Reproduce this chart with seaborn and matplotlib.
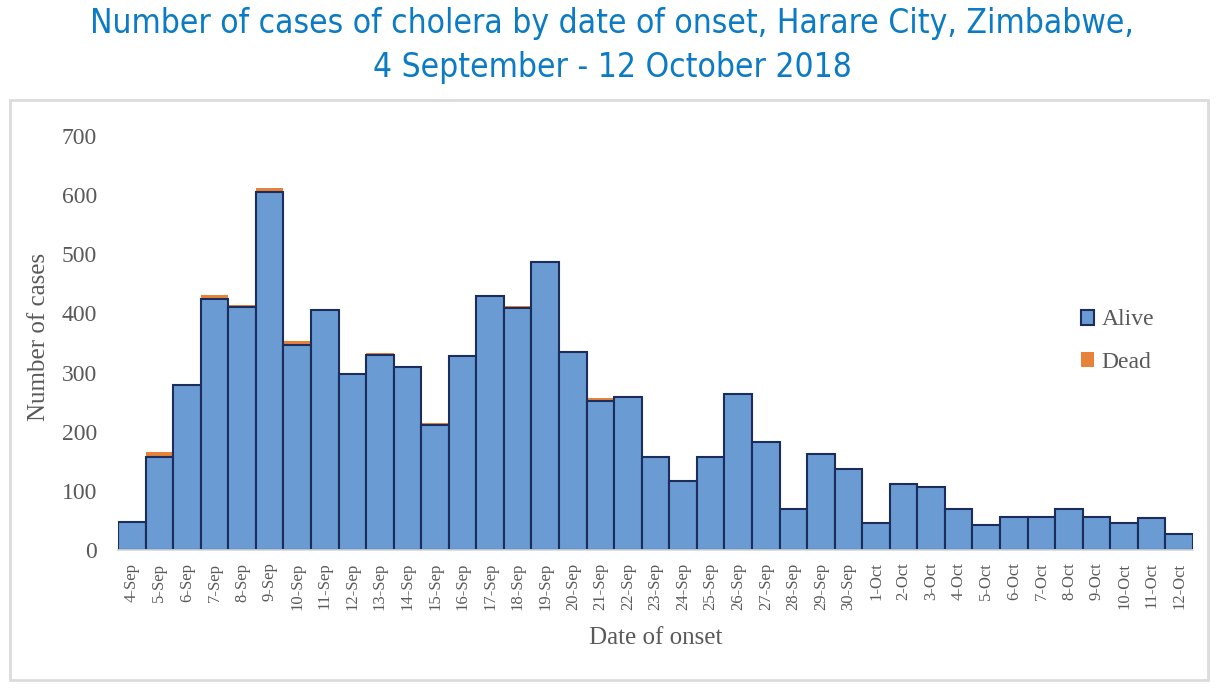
import numpy as np
import pandas as pd
import seaborn as sns
import matplotlib.pyplot as plt
import matplotlib.patches as mpatches
from matplotlib import font_manager

# Daten: Erkrankungsdatum und Fallzahlen
datum = ["4-Sep", "5-Sep", "6-Sep", "7-Sep", "8-Sep", "9-Sep", "10-Sep", "11-Sep",
         "12-Sep", "13-Sep", "14-Sep", "15-Sep", "16-Sep", "17-Sep", "18-Sep", "19-Sep",
         "20-Sep", "21-Sep", "22-Sep", "23-Sep", "24-Sep", "25-Sep", "26-Sep", "27-Sep",
         "28-Sep", "29-Sep", "30-Sep", "1-Oct", "2-Oct", "3-Oct", "4-Oct", "5-Oct",
         "6-Oct", "7-Oct", "8-Oct", "9-Oct", "10-Oct", "11-Oct", "12-Oct"]
alive = [48, 158, 279, 425, 411, 605, 346, 405, 298, 330, 310, 212, 328, 429, 409, 487,
         335, 252, 258, 158, 117, 158, 264, 182, 70, 162, 137, 45, 111, 107, 69, 42,
         56, 55, 69, 55, 45, 54, 27]
dead = [0, 8, 0, 7, 3, 7, 7, 0, 0, 3, 0, 2, 0, 3, 3, 0,
        0, 5, 0, 0, 0, 0, 0, 0, 0, 0, 0, 0, 0, 0, 0, 0,
        0, 0, 0, 0, 0, 0, 0]

df = pd.DataFrame({"Datum": datum, "Alive": alive, "Dead": dead})
df["Gesamt"] = df["Alive"] + df["Dead"]

blau = "#6a9bd2"
rand = "#1b2d5c"
orange = "#e8823a"
grau = "#595959"

sns.set_theme(style="white")
plt.rcParams["font.family"] = ["Liberation Serif", "DejaVu Serif"]

fig = plt.figure(figsize=(12.24, 6.98), dpi=100)
W, H = 1224, 698
ax = fig.add_axes([118 / W, 1 - 550 / H, (1193 - 118) / W, (550 - 136) / H])

# gestapelte Balken: erst Gesamt (orange), dann Alive darüber
sns.barplot(data=df, x="Datum", y="Gesamt", color=orange, width=1.0,
            saturation=1, linewidth=0, ax=ax)
sns.barplot(data=df, x="Datum", y="Alive", color=blau, width=1.0,
            saturation=1, edgecolor=rand, linewidth=1.5, ax=ax)

ax.set_xlim(-0.5, len(datum) - 0.5)
ax.set_ylim(0, 700)
ax.set_yticks(np.arange(0, 701, 100))
ax.tick_params(axis="y", length=0, pad=15, labelsize=17, labelcolor=grau)
ax.tick_params(axis="x", length=0, pad=9, labelsize=12, labelcolor=grau, rotation=90)
for s in ["top", "right", "left"]:
    ax.spines[s].set_visible(False)
ax.spines["bottom"].set_color("#d9d9d9")

ax.set_xlabel("Date of onset", fontsize=18, color=grau)
ax.set_ylabel("Number of cases", fontsize=18, color=grau)
ax.xaxis.set_label_coords(0.5, -0.186)
ax.yaxis.set_label_coords(-0.063, 0.514)

handles = [mpatches.Patch(facecolor=blau, edgecolor=rand, linewidth=1.5, label="Alive"),
           mpatches.Patch(facecolor=orange, edgecolor="none", label="Dead")]
ax.legend(handles=handles, loc="center left", bbox_to_anchor=(1060 / W, 1 - 341 / H),
          bbox_transform=fig.transFigure, frameon=False, fontsize=17,
          handlelength=0.55, handleheight=0.6, handletextpad=0.3, labelspacing=0.9,
          labelcolor=grau)

# Rahmen um das Diagramm
fig.add_artist(mpatches.Rectangle((10 / W, 1 - 680 / H), 1198 / W, 580 / H,
                                  transform=fig.transFigure, fill=False,
                                  edgecolor="#dcdcdc", linewidth=2))

# Titel: schmale Schrift, falls vorhanden
pfad = font_manager.findfont(font_manager.FontProperties(family="DejaVu Sans", stretch="condensed"))
if "Condensed" in pfad:
    titel_prop = dict(family="DejaVu Sans", fontstretch="condensed", fontsize=24)
else:
    titel_prop = dict(family="Liberation Sans", fontsize=24)
fig.text(0.5, 1 - 24 / H, "Number of cases of cholera by date of onset, Harare City, Zimbabwe,",
         ha="center", va="center", color="#0a7bc4", **titel_prop)
fig.text(0.5, 1 - 68 / H, "4 September - 12 October 2018",
         ha="center", va="center", color="#0a7bc4", **titel_prop)

fig.savefig("out.png", dpi=100)
